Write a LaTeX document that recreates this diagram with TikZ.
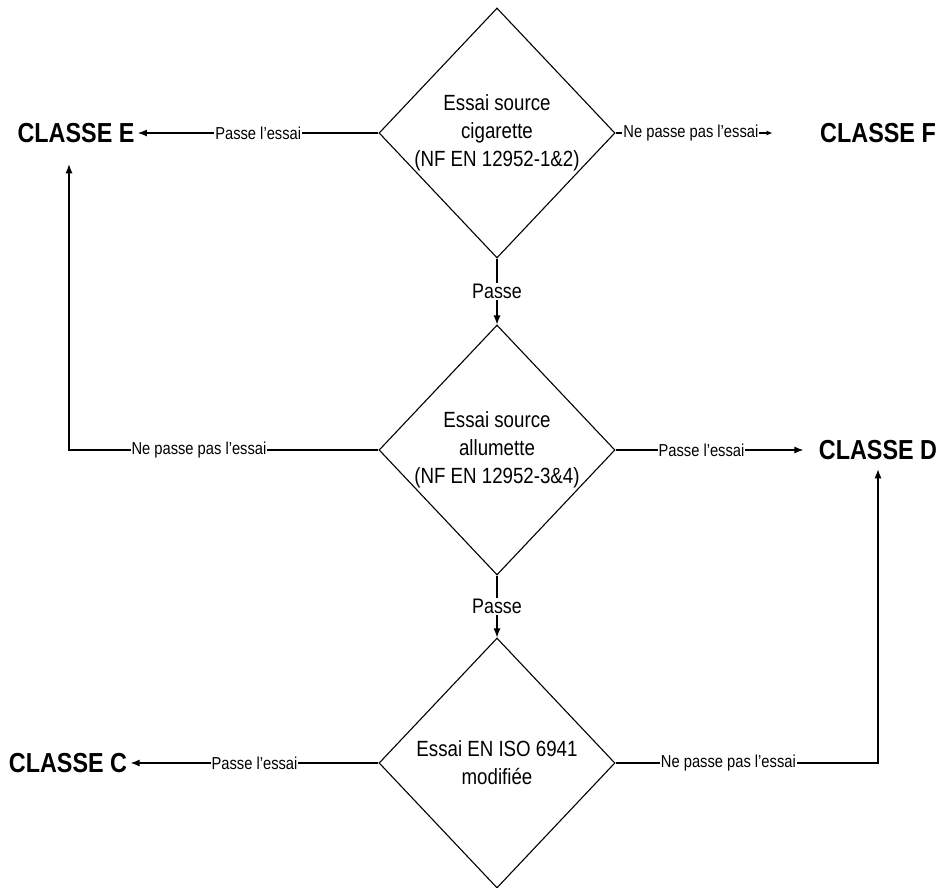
\documentclass[tikz,border=0pt]{standalone}
\usepackage{fontspec}
\setmainfont[FakeStretch=0.85]{Liberation Sans}
\usetikzlibrary{arrows.meta,calc,positioning,shapes.geometric}
\tikzstyle{decision}=[
  diamond,
  draw=black,
  line width=1.1pt,
  minimum width=236pt,
  minimum height=250pt,
  inner sep=-10pt,
  align=center,
  font={\fontsize{22}{28}\selectfont},
]
\tikzstyle{classe}=[
  font={\fontsize{27.5}{30}\selectfont\bfseries},
]
\tikzstyle{arrow}=[
  draw=black,
  line width=1.1pt,
]
\tikzstyle{arrowlabel}=[
  fill=white,
  inner sep=1pt,
  font={\fontsize{17.3}{20}\selectfont},
]
\tikzstyle{passelabel}=[
  fill=white,
  inner sep=1pt,
  font={\fontsize{21}{24}\selectfont},
]
\tikzset{
  >={Latex[length=9pt,width=7pt]},
}

\begin{document}
\begin{tikzpicture}[x=1pt,y=-1pt]
  \useasboundingbox (0,0) rectangle (940,887);
  \node [decision] (d1) at (497,133) {Essai source\\cigarette\\(NF EN 12952-1\&2)};
  \node [decision] (d2) at (497,450) {Essai source\\allumette\\(NF EN 12952-3\&4)};
  \node [decision] (d3) at (497,763) {Essai EN ISO 6941\\modifiée};
  \node [classe] (e) at (76,133) {CLASSE E};
  \node [classe] (f) at (878,133) {CLASSE F};
  \node [classe] (d) at (878,450) {CLASSE D};
  \node [classe] (c) at (68,763) {CLASSE C};
  \coordinate (fin) at ($(d1.east)+(157,0)$);
  \draw [->,arrow] (d1.west)
  -- node [arrowlabel] {Passe l'essai} (e.east);
  \draw [->,arrow,>={Latex[length=6pt,width=5pt]}] (d1.east)
  -- node [arrowlabel, pos=.48] {Ne passe pas l'essai} (fin);
  \draw [->,arrow] (d1.south)
  -- node [passelabel] {Passe} (d2.north);
  \draw [->,arrow,shorten >=18pt] (d2.west)
  -- node [arrowlabel, pos=.58] {Ne passe pas l'essai} ($(e.south|-d2.west)+(-7,0)$)
  -- ($(e.south)+(-7,0)$);
  \draw [->,arrow,shorten >=12pt] (d2.east)
  -- node [arrowlabel, pos=.43] {Passe l'essai} (d.west);
  \draw [->,arrow] (d2.south)
  -- node [passelabel] {Passe} (d3.north);
  \draw [->,arrow] (d3.west)
  -- node [arrowlabel] {Passe l'essai} (c.east);
  \draw [->,arrow,shorten >=6pt] (d3.east)
  -- node [arrowlabel, pos=.43] {Ne passe pas l'essai} (d.south|-d3.east)
  -- (d.south);
\end{tikzpicture}
\end{document}
